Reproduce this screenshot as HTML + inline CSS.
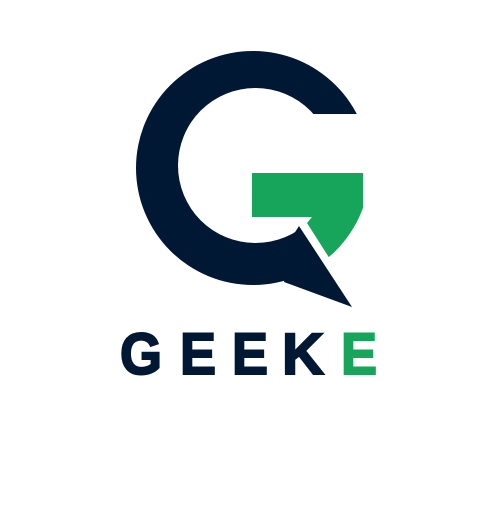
<!DOCTYPE html>
<html><head><meta charset="utf-8"><style>html,body{margin:0;background:#fff}</style></head>
<body>
<svg width="500" height="500" viewBox="0 0 500 500" xmlns="http://www.w3.org/2000/svg">
<defs><clipPath id="oc"><circle cx="253" cy="168" r="117"/></clipPath></defs>
<g>
<path fill="#001834" fill-rule="evenodd" d="M136,168a117,117 0 1,0 234,0a117,117 0 1,0 -234,0Z M178,165.5a77.5,77.5 0 1,0 155,0a77.5,77.5 0 1,0 -155,0Z"/>
<polygon fill="#fff" points="292,114 375,114 375,312 352,307 300,228 270,160"/>
<polygon fill="#001834" points="299,226 352,307 284,282 290,240"/>
<polygon fill="#16a55a" clip-path="url(#oc)" points="252,173 363,173 363,300 337,270 307,223 312,217 252,217"/>
</g>
<g font-family="Liberation Sans, sans-serif" font-weight="bold" font-size="58" stroke-width="2">
<text x="120" y="374" fill="#001834" stroke="#001834" textLength="42" lengthAdjust="spacingAndGlyphs">G</text>
<text x="180" y="374" fill="#001834" stroke="#001834" textLength="36" lengthAdjust="spacingAndGlyphs">E</text>
<text x="232" y="374" fill="#001834" stroke="#001834" textLength="36" lengthAdjust="spacingAndGlyphs">E</text>
<text x="282" y="374" fill="#001834" stroke="#001834" textLength="42" lengthAdjust="spacingAndGlyphs">K</text>
<text x="341" y="374" fill="#16a55a" stroke="#16a55a" textLength="36" lengthAdjust="spacingAndGlyphs">E</text>
</g>
</svg>
</body></html>
